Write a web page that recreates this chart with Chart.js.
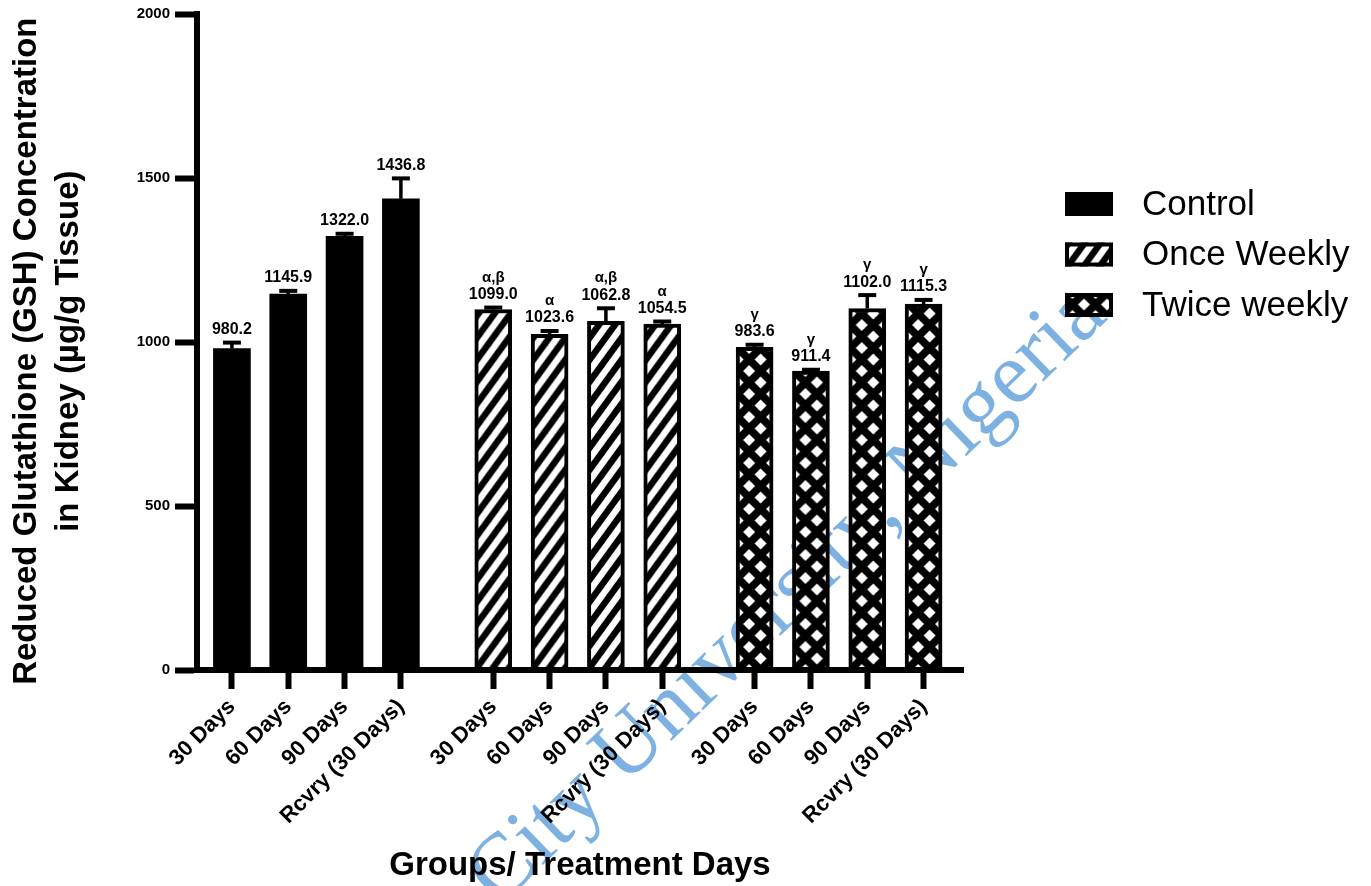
<!DOCTYPE html>
<html>
<head>
<meta charset="utf-8">
<script src="https://cdn.jsdelivr.net/npm/chart.js@4.4.1/dist/chart.umd.min.js"></script>
<style>
  html, body { margin: 0; padding: 0; background: #fff; }
  canvas { display: block; }
</style>
</head>
<body>
<canvas id="gshChart" width="1371" height="886"></canvas>
<script>
// ---- data ----
const groups = ['Control', 'Once Weekly', 'Twice weekly'];
const dayLabels = ['30 Days', '60 Days', '90 Days', 'Rcvry (30 Days)'];

const controlMean = [980.2, 1145.9, 1322.0, 1436.8];
const controlErr  = [18, 10, 8, 62];
const controlSig  = ['', '', '', ''];

const onceMean = [1099.0, 1023.6, 1062.8, 1054.5];
const onceErr  = [6, 10, 40, 8];
const onceSig  = ['α,β', 'α', 'α,β', 'α'];

const twiceMean = [983.6, 911.4, 1102.0, 1115.3];
const twiceErr  = [8, 4, 41, 13];
const twiceSig  = ['γ', 'γ', 'γ', 'γ'];

const yTicks = [0, 500, 1000, 1500, 2000];

// ---- layout helpers ----
const FONT = '"Liberation Sans", Arial, sans-serif';
const GROUP_STEP = 4.64;               // one group of four bars plus the gap after it
const xPos = (g, i) => g * GROUP_STEP + i;
const tickPositions = [];
const tickLabels = [];
groups.forEach((_, g) => dayLabels.forEach((d, i) => { tickPositions.push(xPos(g, i)); tickLabels.push(d); }));

// ---- fill patterns ----
function stripeTile() {
  const W = 16, H = 22;
  const c = document.createElement('canvas');
  c.width = W; c.height = H;
  const g = c.getContext('2d');
  g.fillStyle = '#fff'; g.fillRect(0, 0, W, H);
  g.strokeStyle = '#000'; g.lineWidth = 6.5;
  for (const dx of [-W, 0, W]) {
    g.beginPath(); g.moveTo(dx - W, 2 * H); g.lineTo(dx + 2 * W, -H); g.stroke();
  }
  return c;
}
function diamondTile() {
  const S = 23, r = 6;
  const c = document.createElement('canvas');
  c.width = S; c.height = S;
  const g = c.getContext('2d');
  g.fillStyle = '#000'; g.fillRect(0, 0, S, S);
  g.fillStyle = '#fff';
  for (const [cx, cy] of [[0, 0], [S, 0], [0, S], [S, S], [S / 2, S / 2]]) {
    g.beginPath();
    g.moveTo(cx, cy - r); g.lineTo(cx + r, cy); g.lineTo(cx, cy + r); g.lineTo(cx - r, cy);
    g.closePath(); g.fill();
  }
  return c;
}
const tiles = { stripes: stripeTile(), diamonds: diamondTile() };

function patternAt(ctx2d, tile, x, y) {
  const p = ctx2d.createPattern(tile, 'repeat');
  p.setTransform(new DOMMatrix([1, 0, 0, 1, x, y]));
  return p;
}
function barFill(tile, shift) {
  return (c) => {
    const chart = c.chart;
    if (c.type !== 'data' || !chart.chartArea || !chart.scales.x) {
      return chart.ctx.createPattern(tile, 'repeat');
    }
    const px = chart.scales.x.getPixelForValue(c.raw.x);
    return patternAt(chart.ctx, tile, px + shift, chart.chartArea.bottom);
  };
}

function points(g, values) { return values.map((v, i) => ({ x: xPos(g, i), y: v })); }

// ---- plugins ----
const watermark = {
  id: 'watermark',
  beforeDraw(chart) {
    const c = chart.ctx;
    c.save();
    c.translate(788, 596);
    c.rotate(-44 * Math.PI / 180);
    c.font = '88px "Liberation Serif", "Times New Roman", serif';
    c.fillStyle = '#7db1e1';
    c.textAlign = 'center';
    c.textBaseline = 'middle';
    c.fillText('City University, Nigeria', 0, 0);
    c.restore();
  }
};

const errorBars = {
  id: 'errorBars',
  afterDatasetsDraw(chart) {
    const c = chart.ctx;
    const ys = chart.scales.y;
    chart.data.datasets.forEach((ds, di) => {
      chart.getDatasetMeta(di).data.forEach((bar, i) => {
        const v = ds.data[i].y;
        const top = ys.getPixelForValue(v + ds.errors[i]);
        c.save();
        c.strokeStyle = '#000';
        c.lineWidth = 3.5;
        c.beginPath(); c.moveTo(bar.x, bar.y); c.lineTo(bar.x, top); c.stroke();
        c.lineWidth = 4;
        c.beginPath(); c.moveTo(bar.x - 9, top); c.lineTo(bar.x + 9, top); c.stroke();
        c.fillStyle = '#000';
        c.textAlign = 'center';
        c.textBaseline = 'middle';
        c.font = 'bold 16px ' + FONT;
        c.fillText(v.toFixed(1), bar.x, top - 13);
        if (ds.sig[i]) {
          c.font = 'bold 15px ' + FONT;
          c.fillText(ds.sig[i], bar.x, top - 30);
        }
        c.restore();
      });
    });
  }
};

const sideLegend = {
  id: 'sideLegend',
  afterDraw(chart) {
    const c = chart.ctx;
    const left = chart.chartArea.right + 102;
    chart.data.datasets.forEach((ds, i) => {
      const top = 192 + i * 50.5, w = 48, h = 24;
      c.save();
      if (ds.tile) {
        c.fillStyle = patternAt(c, ds.tile, left + ds.shift - 10, top);
        c.fillRect(left, top, w, h);
        c.strokeStyle = '#000'; c.lineWidth = 4;
        c.strokeRect(left + 2, top + 2, w - 4, h - 4);
      } else {
        c.fillStyle = '#000';
        c.fillRect(left, top, w, h);
      }
      c.fillStyle = '#000';
      c.font = '35px ' + FONT;
      c.textAlign = 'left';
      c.textBaseline = 'middle';
      c.fillText(ds.label, left + 77, top + 13);
      c.restore();
    });
  }
};

// ---- chart ----
new Chart(document.getElementById('gshChart'), {
  type: 'bar',
  data: {
    datasets: [
      { label: groups[0], data: points(0, controlMean), errors: controlErr, sig: controlSig,
        backgroundColor: '#000', borderWidth: 0 },
      { label: groups[1], data: points(1, onceMean), errors: onceErr, sig: onceSig,
        tile: tiles.stripes, shift: -18,
        backgroundColor: barFill(tiles.stripes, -18), borderColor: '#000', borderWidth: 4 },
      { label: groups[2], data: points(2, twiceMean), errors: twiceErr, sig: twiceSig,
        tile: tiles.diamonds, shift: -5.5,
        backgroundColor: barFill(tiles.diamonds, -5.5), borderColor: '#000', borderWidth: 4 }
    ]
  },
  options: {
    responsive: false,
    animation: false,
    events: [],
    devicePixelRatio: 1,
    grouped: false,
    barThickness: 37,
    layout: { padding: { top: 14, right: 408, bottom: 0, left: 0 } },
    plugins: { legend: { display: false }, tooltip: { enabled: false } },
    scales: {
      x: {
        type: 'linear',
        offset: false,
        min: -0.62,
        max: 12.98,
        afterBuildTicks: (axis) => { axis.ticks = tickPositions.map(v => ({ value: v })); },
        afterFit: (s) => { s.height = 216; },
        grid: { offset: false, drawOnChartArea: false, drawTicks: true, tickLength: 19, tickWidth: 6, tickColor: '#000' },
        border: { display: true, width: 6, color: '#000', z: 1 },
        ticks: {
          autoSkip: false, minRotation: 45, maxRotation: 45, padding: 5,
          color: '#000', font: { family: FONT, size: 22, weight: 'bold' },
          callback: (v, i) => tickLabels[i]
        },
        title: {
          display: true, text: 'Groups/ Treatment Days', color: '#000',
          font: { family: FONT, size: 33, weight: 'bold', lineHeight: 1.2 },
          padding: { top: 0, bottom: 0 }
        }
      },
      y: {
        min: 0, max: 2000,
        afterBuildTicks: (axis) => { axis.ticks = yTicks.map(v => ({ value: v })); },
        afterFit: (s) => { s.width = 197; },
        grid: { drawOnChartArea: false, drawTicks: true, tickLength: 22, tickWidth: 6, tickColor: '#000' },
        border: { display: true, width: 6, color: '#000', z: 1 },
        ticks: {
          padding: 5, color: '#000', font: { family: FONT, size: 15, weight: 'bold' },
          callback: (v) => String(v)
        },
        title: {
          display: true,
          text: ['Reduced Glutathione (GSH) Concentration  ', 'in Kidney (µg/g Tissue)  '],
          color: '#000',
          font: { family: FONT, size: 33, weight: 'bold', lineHeight: 1.3 },
          padding: { top: 5, bottom: 0 }
        }
      }
    }
  },
  plugins: [watermark, errorBars, sideLegend]
});
</script>
</body>
</html>
